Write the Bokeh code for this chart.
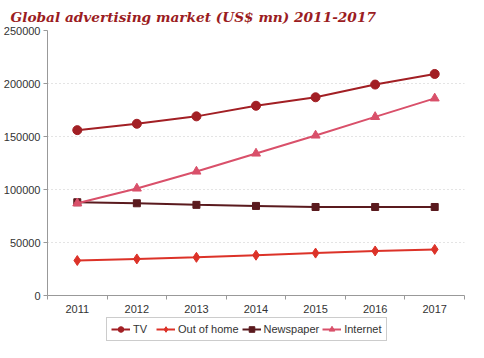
from bokeh.plotting import figure
from bokeh.embed import file_html
from bokeh.resources import INLINE
from bokeh.layouts import column
from bokeh.models import (FixedTicker, Legend, LegendItem, Range1d,
                          BasicTickFormatter)

years = [2011, 2012, 2013, 2014, 2015, 2016, 2017]
tv = [156000, 162000, 169000, 179000, 187000, 199000, 209000]
out_of_home = [33000, 34500, 36000, 38000, 40000, 42000, 43500]
newspaper = [88000, 87000, 85500, 84500, 83500, 83500, 83500]
internet = [87000, 101000, 117000, 134000, 151000, 168500, 186000]
y_ticks = [0, 50000, 100000, 150000, 200000, 250000]

p = figure(width=468, height=316, output_backend="svg", toolbar_location=None,
           x_range=Range1d(2010.5, 2017.5), y_range=Range1d(0, 250000))

p.title.text = "Global advertising market (US$ mn) 2011-2017"
p.title.text_font = "DejaVu Serif"
p.title.text_font_style = "bold italic"
p.title.text_font_size = "13.7px"
p.title.text_color = "#9b1c22"
p.title.offset = -37
p.title.standoff = 12

p.outline_line_color = None
p.min_border_left = 37
p.min_border_right = 4
p.min_border_top = 2
p.min_border_bottom = 21
p.xgrid.grid_line_color = None
p.ygrid.grid_line_color = "#c8c8c8"
p.ygrid.grid_line_dash = "1 3"

xa = p.xaxis[0]
xa.ticker = FixedTicker(ticks=years, minor_ticks=[y + 0.5 for y in range(2010, 2018)])
xa.major_tick_out = 0
xa.major_tick_in = 0
xa.minor_tick_out = 4
xa.minor_tick_in = 0
xa.axis_line_color = "#999999"
xa.minor_tick_line_color = "#999999"
xa.major_label_text_font = "Liberation Sans"
xa.major_label_text_font_size = "11px"
xa.major_label_text_color = "#333333"
xa.major_label_standoff = 5

ya = p.yaxis[0]
ya.ticker = FixedTicker(ticks=y_ticks)
ya.formatter = BasicTickFormatter(use_scientific=False)
ya.major_tick_out = 4
ya.major_tick_in = 0
ya.minor_tick_line_color = None
ya.axis_line_color = "#999999"
ya.major_tick_line_color = "#999999"
ya.major_label_text_font = "Liberation Sans"
ya.major_label_text_font_size = "11px"
ya.major_label_text_color = "#333333"
ya.major_label_standoff = 3

series = [
    ("TV", tv, "#a21f24", "circle", 9),
    ("Out of home", out_of_home, "#dc3228", "diamond", 10),
    ("Newspaper", newspaper, "#5a1a1e", "square", 7),
    ("Internet", internet, "#d9506a", "triangle", 9),
]

# legend strip below the chart (its renderers lie outside its visible range)
lg = figure(width=468, height=26, output_backend="svg", toolbar_location=None,
            x_range=Range1d(0, 1), y_range=Range1d(0, 1),
            x_axis_location=None, y_axis_location=None)
lg.grid.grid_line_color = None
lg.outline_line_color = None
lg.min_border = 0

items = []
for name, vals, col, marker, size in series:
    p.line(years, vals, line_color=col, line_width=2)
    p.scatter(years, vals, marker=marker, size=size, fill_color=col, line_color=col)
    l1 = lg.line(years, vals, line_color=col, line_width=2)
    l2 = lg.scatter(years, vals, marker=marker, size=size, fill_color=col, line_color=col)
    items.append(LegendItem(label=name, renderers=[l1, l2]))

legend = Legend(items=items, orientation="horizontal", location="left")
legend.border_line_color = "#999999"
legend.label_text_font = "Liberation Sans"
legend.label_text_font_size = "11px"
legend.label_text_color = "#333333"
legend.glyph_width = 19
legend.glyph_height = 14
legend.label_standoff = 3
legend.spacing = 3
legend.padding = 4
legend.margin = 59
lg.add_layout(legend)

layout = column(p, lg, spacing=0)
open("out.html", "w").write(file_html(layout, INLINE))
